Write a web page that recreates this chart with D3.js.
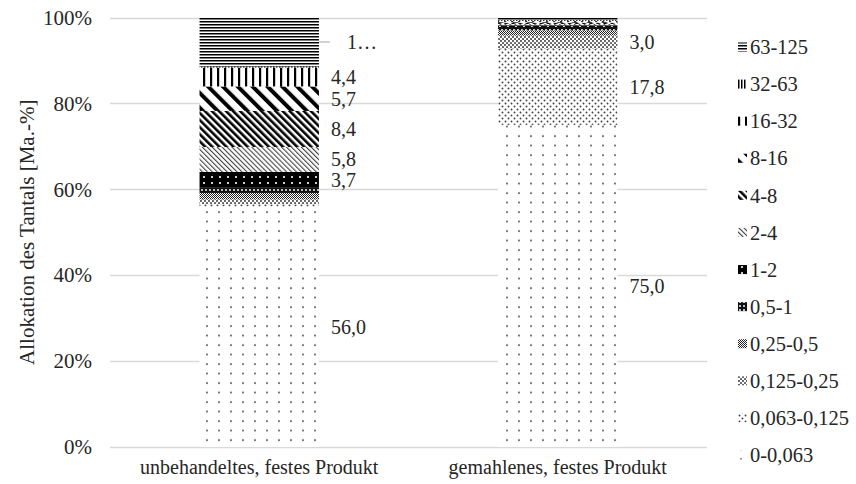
<!DOCTYPE html>
<html>
<head>
<meta charset="utf-8">
<script src="https://cdn.jsdelivr.net/npm/d3@7"></script>
<style>
  html, body { margin: 0; padding: 0; background: #fff; }
  svg { display: block; }
</style>
</head>
<body>
<svg id="chart" width="856" height="484"></svg>
<script>
// ---- data ----
const categories = ["unbehandeltes, festes Produkt", "gemahlenes, festes Produkt"];
const fractions = ["0-0,063", "0,063-0,125", "0,125-0,25", "0,25-0,5", "0,5-1", "1-2",
                   "2-4", "4-8", "8-16", "16-32", "32-63", "63-125"];
const valuesUnbehandelt = [56.0, 0.55, 1.1, 1.5, 1.2, 3.7, 5.8, 8.4, 5.7, 4.4, 0.25, 11.4];
const valuesGemahlen    = [75.0, 17.8, 3.0, 1.2, 0.8, 0.4, 0.3, 0.3, 0.2, 0.2, 0.2, 0.6];
const labelsUnbehandelt = ["56,0", "", "", "", "", "3,7", "5,8", "8,4", "5,7", "4,4", "", "1…"];
const labelsGemahlen    = ["75,0", "17,8", "3,0", "", "", "", "", "", "", "", "", ""];
const yTicks = [0, 20, 40, 60, 80, 100];
const yTitle = "Allokation des Tantals [Ma.-%]";

const FONT = "Liberation Serif";
const TXT = "#262626";

// ---- layout ----
const svg = d3.select("#chart");
const margin = { left: 110, right: 149, top: 17.5, bottom: 37 };
const W = 856, H = 484;
const x = d3.scaleBand().domain(categories).range([margin.left, W - margin.right]).paddingInner(0.6).paddingOuter(0.3);
const y = d3.scaleLinear().domain([0, 100]).range([H - margin.bottom, margin.top]);

// ---- patterns ----
const defs = svg.append("defs");
function pat(id, w, h, build, transform) {
  const p = defs.append("pattern").attr("id", id).attr("patternUnits", "userSpaceOnUse")
    .attr("width", w).attr("height", h);
  if (transform) p.attr("patternTransform", transform);
  p.append("rect").attr("width", w).attr("height", h).attr("fill", "#fff");
  build(p);
}
pat("p0", 12, 9.5, p => p.append("circle").attr("cx", 3).attr("cy", 3).attr("r", 0.95).attr("fill", "#444"));
pat("p1", 6, 6, p => {
  p.append("circle").attr("cx", 1.5).attr("cy", 1.5).attr("r", 0.95).attr("fill", "#444");
  p.append("circle").attr("cx", 4.5).attr("cy", 4.5).attr("r", 0.95).attr("fill", "#444");
});
pat("p2", 4, 4, p => {
  p.append("circle").attr("cx", 1).attr("cy", 1).attr("r", 1.05).attr("fill", "#555");
  p.append("circle").attr("cx", 3).attr("cy", 3).attr("r", 1.05).attr("fill", "#555");
});
pat("p3", 2, 2, p => {
  p.append("rect").attr("width", 1).attr("height", 1).attr("fill", "#222");
  p.append("rect").attr("x", 1).attr("y", 1).attr("width", 1).attr("height", 1).attr("fill", "#222");
});
pat("p4", 4, 4, p => {
  p.append("rect").attr("width", 4).attr("height", 4).attr("fill", "#111");
  p.append("circle").attr("cx", 2).attr("cy", 2).attr("r", 1).attr("fill", "#fff");
});
pat("p5", 8, 6, p => {
  p.append("rect").attr("width", 8).attr("height", 6).attr("fill", "#000");
  p.append("circle").attr("cx", 4).attr("cy", 3).attr("r", 1.1).attr("fill", "#fff");
});
pat("p6", 3.5, 3.5, p => p.append("rect").attr("width", 1.1).attr("height", 3.5).attr("fill", "#444"), "rotate(-45)");
pat("p7", 5, 5, p => p.append("rect").attr("width", 2.6).attr("height", 5).attr("fill", "#000"), "rotate(-45)");
pat("p8", 10.5, 10.5, p => p.append("rect").attr("width", 4).attr("height", 10.5).attr("fill", "#000"), "rotate(-45)");
pat("p9", 7, 7, p => p.append("rect").attr("width", 2.2).attr("height", 7).attr("fill", "#000"));
pat("p10", 3, 3, p => p.append("rect").attr("width", 1.5).attr("height", 3).attr("fill", "#000"));
pat("p11", 3, 3, p => p.append("rect").attr("width", 3).attr("height", 1.5).attr("fill", "#000"));

// ---- grid ----
svg.append("g").selectAll("line").data(yTicks).join("line")
  .attr("x1", margin.left).attr("x2", W - margin.right)
  .attr("y1", d => Math.round(y(d)) + 0.5).attr("y2", d => Math.round(y(d)) + 0.5)
  .attr("stroke", "#d9d9d9").attr("stroke-width", 1.3);

// ---- y axis ----
const yAxis = d3.axisLeft(y).tickValues(yTicks).tickFormat(d => d + "%").tickSize(0).tickPadding(18);
const ya = svg.append("g").attr("transform", `translate(${margin.left},0)`).call(yAxis)
  .attr("font-family", FONT).attr("font-size", 21);
ya.select(".domain").remove();
ya.selectAll("text").attr("fill", TXT);

svg.append("text").attr("transform", `translate(34,${(y(0) + y(100)) / 2}) rotate(-90)`)
  .attr("text-anchor", "middle").attr("font-family", FONT).attr("font-size", 21)
  .attr("fill", TXT).text(yTitle);

// ---- x axis labels ----
const xAxis = d3.axisBottom(x).tickSize(0).tickPadding(13);
const xa = svg.append("g").attr("transform", `translate(0,${y(0)})`).call(xAxis)
  .attr("font-family", FONT).attr("font-size", 20);
xa.select(".domain").remove();
xa.selectAll("text").attr("fill", TXT);

// ---- stacked bars ----
const series = [valuesUnbehandelt, valuesGemahlen];
const labels = [labelsUnbehandelt, labelsGemahlen];
categories.forEach((cat, ci) => {
  const vals = series[ci];
  let acc = 0;
  const segs = vals.map((v, i) => { const s = { i, y0: acc, y1: acc + v, v }; acc += v; return s; });
  const g = svg.append("g");
  g.selectAll("rect").data(segs).join("rect")
    .attr("x", x(cat)).attr("width", x.bandwidth())
    .attr("y", d => y(d.y1)).attr("height", d => y(d.y0) - y(d.y1))
    .attr("fill", d => `url(#p${d.i})`);
  const lx = x(cat) + x.bandwidth();
  segs.forEach(s => {
    const t = labels[ci][s.i];
    if (!t) return;
    const cy = y((s.y0 + s.y1) / 2);
    let tx = lx + 12;
    if (t === "1…") {
      g.append("line").attr("x1", lx).attr("x2", lx + 11).attr("y1", cy).attr("y2", cy)
        .attr("stroke", "#a6a6a6").attr("stroke-width", 1);
      tx = lx + 28;
    }
    g.append("text").attr("x", tx).attr("y", cy).attr("dy", "0.35em")
      .attr("font-family", FONT).attr("font-size", 20).attr("fill", TXT).text(t);
  });
});

// ---- legend ----
const legend = svg.append("g").attr("transform", "translate(738,0)");
const legendOrder = fractions.map((f, i) => i).reverse();
const ly = d3.scalePoint().domain(legendOrder).range([47, 455]);
legendOrder.forEach(i => {
  const gy = ly(i);
  legend.append("rect").attr("x", 0).attr("y", gy - 4.5).attr("width", 9).attr("height", 9)
    .attr("fill", `url(#p${i})`);
  legend.append("text").attr("x", 12).attr("y", gy).attr("dy", "0.35em")
    .attr("font-family", FONT).attr("font-size", 20.5).attr("fill", TXT).text(fractions[i]);
});
</script>
</body>
</html>
